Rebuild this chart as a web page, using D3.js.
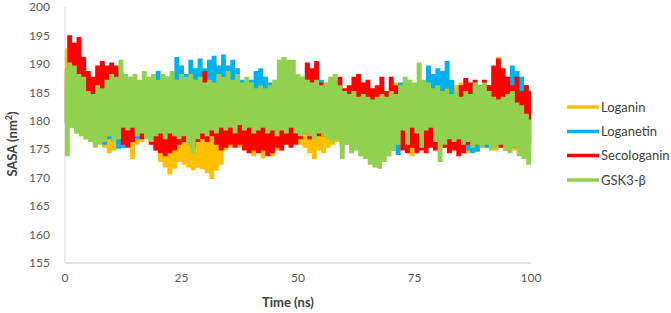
<!DOCTYPE html>
<html>
<head>
<meta charset="utf-8">
<script src="https://cdn.jsdelivr.net/npm/d3@7"></script>
<style>
  body { margin: 0; background: #fff; }
  svg { font-family: Lato, "Open Sans", sans-serif; }
  .tick-label { fill: #595959; font-size: 12px; }
  .axis-title { fill: #404040; font-size: 13px; font-weight: bold; }
  .legend text { fill: #404040; font-size: 13px; }
</style>
</head>
<body>
<div id="chart"></div>
<script>
// SASA of each system, read from the picture as the upper and lower swing
// of the trace at every ns (0..100)
const SERIES = ["Loganin", "Loganetin", "Secologanin", "GSK3-β"];
const COLORS = { "Loganin": "#ffc000", "Loganetin": "#00b0f0", "Secologanin": "#ff0000", "GSK3-β": "#92d050" };

const loganinHi = [192.5,190,188,187,186,185,185.5,184.5,185,184,185,184.5,185,184,185,184.5,185,184,185,184.5,
  184,183.5,184,183,184,183.5,184,183,184.5,184,183.5,184,183,184.5,184,185,184.5,185,184,185,
  184.5,185,184,185,184.5,185,184,185.5,185,184.5,185,184.5,186,185,184.5,185.5,186,187,185.5,185,
  184.5,185,184.5,185,184,185,184.5,185,184,185,185.5,186.5,186.3,185,184.5,185,184.5,185,184,185,
  184.5,185,184.5,185,186,186.5,187,185.5,185,184.5,185,186,188,191,186,185.5,188.7,187,185,184.5,184];
const loganinLo = [180,179,178,177.5,177,176.5,176,176.5,175.5,174.5,175,176,175.5,176,173.5,176,176.5,177,176,175,
  173,172,170.8,171.8,173,172.5,172,171.5,172,171.7,171,170,171.5,172.5,175,175.5,176,175.5,176,175,
  174,175,173.6,174.5,174,175,176.5,176,177,176.5,176,175.5,174.5,173.5,175,174.5,175.5,176,176.5,175.5,
  176,175,175.5,174,175,174.5,175.5,174.5,175,174,175,176,175.5,176,174,175,176,175.5,176,175,
  176,175.5,176,175.5,176,175,174.5,175.5,175,176,175.5,176,175,175.5,176,175.5,175,176,175.5,176,176];

const loganetinHi = [186,187,188.5,187.5,189,188,186,185.5,186,185,186,185.5,186,185,186,185.5,186,185,186,185.5,
  188.5,186,187.5,188,191,189.5,188,190.5,189,190.7,189,190.5,191.2,189.5,191.4,189.5,190.5,189,187,186,
  187,188.5,189,187.5,186.5,185,186,185.5,186,185,186,187.5,189.5,188,189.8,187,185,186,185.5,186,
  185,185.5,186,185,185.5,185,184.5,185,184,185,184.5,185,186.5,186,185.5,186,185,186.5,189.5,188,
  189,188.5,190.3,187,185,186,185,185.5,185,186,185.5,186,185,186,185.5,187,189.5,188.5,187.5,186,183];
const loganetinLo = [180,180.5,178.5,179,180,177,178,176.5,176,177,176.5,175.3,175.5,177.5,178,177,178,179,178.5,179,
  180,181,180,180.5,181,180,181,182,181,180,181,180.5,181,180,181,180,179.5,180,179,179.5,
  179,178.5,176.5,177,176.5,178,179,178.5,179,178,178.5,179,178.5,179,178,178.5,178,177.5,177,175.8,
  177,177.5,178,177.5,178,178.5,178,177,176.5,175.5,175,174.2,176,177,176,177,176.5,177,176,177,
  177.5,177,176.5,177,176.5,176,175,174.5,174.8,176,175.5,176,176.5,176,177,176.5,176,175.5,176,176.5,177];

const secologaninHi = [189,194.8,193.5,194.5,191,188.5,187.5,189.5,190.3,189.5,190,189.5,188.5,187,186,185,184,183.5,182,181.5,
  181,182,181,182.5,181,182,181.5,184,186.5,187,188.5,186.5,185,184,185.5,186,184,183,182,181,
  182,181.5,182.5,181,182,181,182,181.5,182,183,184,187,190,189,190.3,186.5,185.5,185,187,187.5,
  185.5,186,187.5,188,186.5,187,185.5,186,187.5,185,187.5,186,185,184,183.5,184,183,184,185,184.5,
  185,184,185.5,184,185,186,187.3,186.5,187,186,187,186,189.5,190.7,189,187.5,186,187.5,185,186,185];
const secologaninLo = [179.8,179.5,181,180,181,182,183,183.5,183,184,178,177.5,176,175.5,176.5,178,177,178,176,175,
  174.5,174,174.5,175,176,176.5,177,175.5,176.5,177,176.5,177.5,176,175,175.5,176,175.5,176,175,174.5,
  175,174.5,175,174,174.5,175.5,175,176,175.5,176,177,178,177,178,177.5,177.5,178,177.5,178,178.5,
  179,179,180,180.5,181,182,182.5,183,182,180,178,177,175,174.5,175.5,174.5,175,174.5,175.5,175,
  176,175.5,174.5,175,174,174.5,176,177,176,177,176.5,177,176,175.5,175,176,175.5,174.5,174,175,175.5];

const gskHi = [189,190,189.5,188,187.5,185,184.5,186,185.5,187,188,187.5,190.5,188,187.5,188,187,188.5,187.5,188,
  187,188,187.5,188.5,187,188,187.5,188,187,187.5,186.5,187,186.5,188,187.5,188.5,187,188,186.5,187.5,
  186.5,185.5,186,185.5,186,187,190.5,191,190.5,190.5,188,187.5,187,186.5,187,186,186.5,187.5,188,186,
  185,184.5,185,184,184.5,184,183.5,184,184.5,184,185,184.5,186,187.5,187,186.5,190,187,186.5,185.5,
  186,185,185.5,184.5,185,184,185,184.5,186.5,186,186.5,185,184,183.5,184,184.5,185,183,182.5,181,180];
const gskLo = [174,179,178,177.5,177,176.5,175.5,176,176.5,177.5,176.5,177,179,178.5,179,177.5,178,177,176.5,177.5,
  178,177,178,177.5,177,177.5,176,174.5,177,178,177.5,178.5,178,179,178.5,179,178,179.5,178.5,179,
  178,178.5,179,178,178.5,177.5,178.5,178,179,178,177.5,178,177.5,177,178,177.5,177,176.5,177,173.5,
  176,174.5,175,174,173.5,172.5,172,171.8,173,174,175,176,178.5,176,179,178,175.5,178.5,179,176.5,
  173,176,177,176.5,177,176,176.5,175.5,176,175.5,176,175,175.5,176,175,174.5,175.5,174,173.5,172.5,172.2];

const HI = { "Loganin": loganinHi, "Loganetin": loganetinHi, "Secologanin": secologaninHi, "GSK3-β": gskHi };
const LO = { "Loganin": loganinLo, "Loganetin": loganetinLo, "Secologanin": secologaninLo, "GSK3-β": gskLo };

const X_TICKS = [0, 25, 50, 75, 100];
const Y_TICKS = [155, 160, 165, 170, 175, 180, 185, 190, 195, 200];

const W = 671, H = 313;
const svg = d3.select("#chart").append("svg").attr("width", W).attr("height", H);

const x = d3.scaleLinear().domain([0, 100]).range([65, 531]);
const y = d3.scaleLinear().domain([155, 200]).range([263, 7]);

// axis frame lines (light grey, like the spreadsheet default)
svg.append("line").attr("x1", x(0)).attr("x2", x(0)).attr("y1", y(200)).attr("y2", y(155))
    .attr("stroke", "#d9d9d9").attr("stroke-width", 1);
svg.append("line").attr("x1", x(0)).attr("x2", x(100)).attr("y1", y(155)).attr("y2", y(155))
    .attr("stroke", "#d9d9d9").attr("stroke-width", 1.5);

// tick labels
svg.selectAll(".ytick").data(Y_TICKS).join("text").attr("class", "tick-label ytick")
    .attr("x", 50).attr("y", d => y(d)).attr("dy", "0.35em").attr("text-anchor", "end").text(d => d);
svg.selectAll(".xtick").data(X_TICKS).join("text").attr("class", "tick-label xtick")
    .attr("x", d => x(d)).attr("y", 282).attr("text-anchor", "middle").text(d => d);

// axis titles
svg.append("text").attr("class", "axis-title").attr("x", 288).attr("y", 307)
    .attr("text-anchor", "middle").text("Time (ns)");
svg.append("text").attr("class", "axis-title").attr("transform", "translate(17,144) rotate(-90)")
    .attr("text-anchor", "middle")
    .call(t => { t.append("tspan").text("SASA (nm"); t.append("tspan").attr("dy", -5).attr("font-size", 9).text("2");
                 t.append("tspan").attr("dy", 5).text(")"); });

// each trace swings between its upper and lower value within every ns
function tracePoints(name){
  const pts = [];
  HI[name].forEach((v, i) => {
    pts.push([i, v]);
    if (i < 100) pts.push([i + 0.5, LO[name][i]]);
  });
  return pts;
}

// step curve: the swings become near-vertical strokes packed side by side
const line = d3.line().curve(d3.curveStep).x(d => x(d[0])).y(d => y(d[1]));
svg.append("g").selectAll("path").data(SERIES).join("path")
    .attr("d", d => line(tracePoints(d)))
    .attr("fill", "none").attr("stroke", d => COLORS[d])
    .attr("stroke-width", 2.6).attr("stroke-linejoin", "miter");

// legend
const legendY = [107, 131.5, 155.5, 180];
const legend = svg.append("g").attr("class", "legend");
SERIES.forEach((s, i) => {
  const g = legend.append("g").attr("transform", `translate(567,${legendY[i]})`);
  g.append("line").attr("x1", 0).attr("x2", 32).attr("stroke", COLORS[s]).attr("stroke-width", 3.5);
  g.append("text").attr("x", 34).attr("dy", "0.35em").text(s);
});
</script>
</body>
</html>
